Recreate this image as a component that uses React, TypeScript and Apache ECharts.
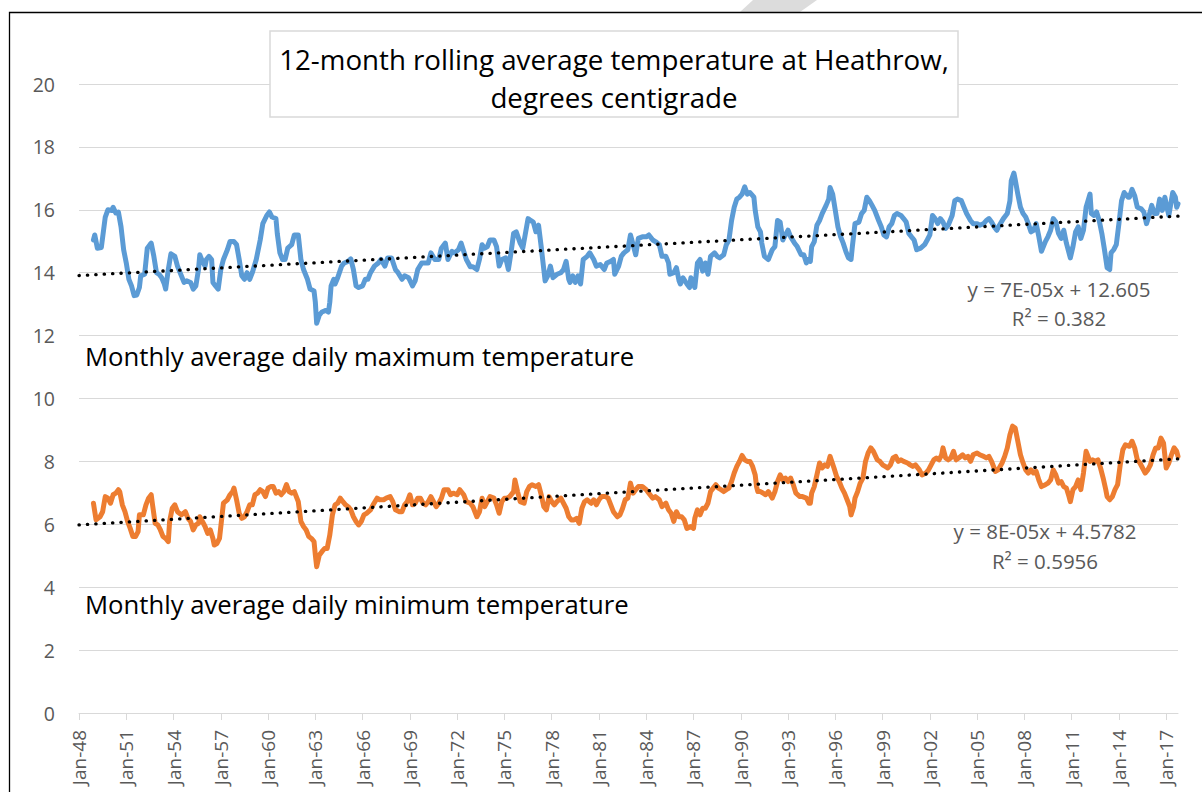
import React, { useEffect, useRef } from "react";
import * as echarts from "echarts";

// ---------- axis definition ----------
const START_YEAR = 1948;
const MONTH_COUNT = 838; // Jan-1948 .. Oct-2017
const MONTH_NAMES = ["Jan", "Feb", "Mar", "Apr", "May", "Jun", "Jul", "Aug", "Sep", "Oct", "Nov", "Dec"];
const TICK_EVERY_MONTHS = 36;
const Y_MIN = 0;
const Y_MAX = 20;
const Y_STEP = 2;

// ---------- 12-month rolling average daily maximum (month index from Jan-1948) ----------
const maxMonths = [
  11, 12, 14, 17, 20, 22, 25, 26, 28, 30, 32, 34, 36, 38, 40, 42, 44, 46, 47, 50,
  52, 54, 55, 57, 59, 61, 63, 65, 66, 68, 70, 73, 75, 78, 80, 82, 85, 87, 89, 91,
  92, 94, 96, 97, 99, 101, 102, 104, 106, 108, 110, 113, 115, 118, 120, 122, 124, 126, 128, 130,
  132, 135, 138, 140, 143, 145, 147, 150, 151, 153, 155, 157, 159, 162, 164, 167, 169, 171, 174, 176,
  179, 180, 181, 183, 185, 188, 190, 191, 192, 194, 195, 197, 200, 202, 205, 207, 209, 211, 213, 216,
  218, 220, 222, 225, 228, 230, 233, 235, 238, 241, 243, 246, 248, 251, 254, 256, 258, 261, 264, 266,
  268, 271, 274, 276, 279, 281, 284, 286, 289, 291, 293, 295, 298, 300, 303, 305, 307, 309, 311, 313,
  316, 318, 320, 322, 325, 327, 329, 331, 333, 336, 338, 340, 342, 344, 346, 348, 350, 352, 354, 355,
  357, 359, 361, 364, 367, 369, 371, 373, 374, 376, 378, 380, 382, 384, 387, 389, 392, 394, 397, 400,
  402, 405, 407, 408, 411, 413, 415, 418, 420, 422, 424, 426, 429, 432, 434, 437, 439, 442, 444, 447,
  449, 450, 453, 455, 457, 458, 460, 463, 465, 466, 469, 471, 473, 475, 477, 479, 481, 484, 486, 488,
  491, 493, 495, 497, 499, 501, 503, 505, 507, 509, 511, 514, 515, 517, 519, 520, 522, 525, 528, 530,
  532, 534, 536, 538, 540, 542, 545, 547, 550, 552, 554, 555, 557, 558, 560, 562, 564, 566, 569, 571,
  572, 574, 576, 578, 580, 582, 584, 586, 588, 589, 591, 594, 596, 598, 600, 602, 604, 606, 609, 611,
  613, 615, 617, 619, 621, 623, 626, 628, 630, 632, 634, 636, 638, 641, 644, 646, 648, 650, 652, 654,
  656, 658, 660, 662, 665, 667, 669, 672, 674, 676, 679, 681, 684, 686, 689, 691, 693, 695, 697, 699,
  701, 704, 707, 709, 710, 712, 713, 715, 717, 719, 721, 723, 725, 727, 729, 731, 733, 736, 738, 740,
  742, 744, 746, 748, 750, 752, 755, 757, 759, 761, 763, 765, 767, 770, 771, 773, 775, 777, 779, 781,
  783, 785, 786, 788, 790, 792, 794, 796, 799, 800, 802, 804, 806, 809, 811, 813, 815, 817, 819, 821,
  823, 825, 827, 828, 830, 833, 835, 836, 837,
];
const maxValues = [
  15.04, 15.2, 14.78, 14.8, 15.77, 16.0, 15.98, 16.08, 15.9, 15.93, 15.46, 14.73, 14.31, 13.79, 13.58, 13.27, 13.29, 13.53, 13.9, 13.95,
  14.78, 14.89, 14.94, 14.52, 14.0, 13.95, 13.84, 13.64, 13.48, 14.1, 14.6, 14.52, 14.21, 13.9, 13.69, 13.74, 13.69, 13.48, 13.58, 14.1,
  14.57, 14.36, 14.21, 14.42, 14.52, 14.42, 13.69, 13.58, 13.48, 14.1, 14.42, 14.73, 14.99, 14.99, 14.89, 14.42, 13.9, 13.79, 14.0, 13.79,
  14.0, 14.42, 15.04, 15.56, 15.82, 15.93, 15.77, 15.72, 15.25, 14.63, 14.42, 14.42, 14.78, 14.89, 15.2, 15.2, 14.42, 14.1, 13.79, 13.48,
  13.42, 13.06, 12.39, 12.65, 12.75, 12.8, 12.75, 13.06, 13.58, 13.79, 13.64, 13.84, 14.21, 14.31, 14.36, 14.44, 14.1, 13.58, 13.53, 13.58,
  13.79, 13.79, 14.0, 14.21, 14.31, 14.42, 14.21, 14.47, 14.47, 14.1, 14.0, 13.79, 13.9, 13.84, 13.58, 13.74, 14.1, 14.31, 14.31, 14.31,
  14.63, 14.42, 14.42, 14.78, 14.94, 14.42, 14.68, 14.63, 14.73, 14.94, 14.68, 14.42, 14.19, 14.19, 14.1, 14.42, 14.89, 14.78, 14.83, 15.04,
  15.04, 14.83, 14.21, 14.42, 14.47, 14.1, 14.63, 15.25, 15.3, 14.94, 14.78, 15.25, 15.72, 15.66, 15.61, 15.3, 15.51, 14.83, 14.1, 13.74,
  13.9, 14.21, 13.84, 13.95, 14.0, 14.1, 14.36, 13.79, 13.69, 13.9, 13.69, 13.9, 13.64, 14.42, 14.52, 14.63, 14.42, 14.21, 14.26, 14.1,
  14.31, 14.36, 14.42, 13.95, 14.21, 14.52, 14.63, 14.73, 15.2, 14.89, 14.57, 15.09, 15.14, 15.14, 15.2, 15.04, 14.99, 14.89, 14.52, 14.52,
  14.31, 13.95, 14.0, 14.16, 13.74, 13.64, 13.84, 13.64, 13.53, 13.84, 13.53, 14.31, 14.42, 14.05, 14.31, 13.95, 14.52, 14.63, 14.52, 14.47,
  14.57, 14.89, 15.04, 15.66, 16.08, 16.34, 16.4, 16.5, 16.73, 16.5, 16.55, 16.4, 15.98, 15.46, 15.3, 14.94, 14.52, 14.42, 14.73, 14.83,
  15.66, 15.61, 15.04, 15.2, 15.35, 15.14, 14.94, 14.83, 14.57, 14.57, 14.31, 14.42, 14.36, 14.83, 14.99, 15.51, 15.66, 15.88, 16.14, 16.34,
  16.71, 16.5, 15.98, 15.46, 15.15, 14.94, 14.68, 14.47, 14.42, 14.83, 15.56, 15.61, 15.88, 15.98, 16.4, 16.29, 16.14, 15.98, 15.66, 15.46,
  15.2, 15.14, 15.46, 15.56, 15.82, 15.88, 15.82, 15.72, 15.61, 15.25, 15.14, 15.04, 14.73, 14.78, 14.89, 15.04, 15.2, 15.82, 15.72, 15.56,
  15.72, 15.61, 15.41, 15.51, 15.82, 16.29, 16.34, 16.29, 16.08, 15.88, 15.66, 15.56, 15.56, 15.51, 15.56, 15.66, 15.72, 15.61, 15.46, 15.35,
  15.51, 15.72, 15.88, 16.29, 16.92, 17.17, 16.96, 16.5, 16.08, 15.88, 15.77, 15.56, 15.3, 15.35, 15.56, 15.15, 14.68, 14.99, 15.15, 15.35,
  15.72, 15.61, 15.25, 15.09, 15.35, 14.94, 14.47, 14.83, 15.3, 15.46, 15.09, 15.35, 16.08, 16.5, 15.88, 15.82, 15.93, 15.66, 15.25, 14.73,
  14.16, 14.1, 14.63, 14.73, 14.89, 15.56, 16.29, 16.55, 16.4, 16.4, 16.65, 16.45, 16.08, 16.03, 15.93, 15.56, 15.82, 16.14, 15.88, 15.88,
  16.34, 15.98, 16.4, 16.19, 15.82, 16.55, 16.4, 16.08, 16.19,
];

// ---------- 12-month rolling average daily minimum ----------
const minMonths = [
  11, 13, 16, 18, 20, 22, 24, 26, 28, 30, 31, 33, 35, 37, 39, 41, 43, 45, 46, 49,
  51, 53, 55, 56, 58, 60, 62, 64, 66, 68, 69, 71, 73, 75, 78, 81, 83, 85, 87, 89,
  91, 92, 94, 96, 98, 100, 102, 103, 105, 107, 109, 110, 113, 115, 117, 118, 120, 122, 124, 126,
  128, 130, 132, 134, 136, 138, 140, 142, 144, 146, 148, 150, 152, 154, 156, 158, 160, 162, 164, 167,
  169, 171, 173, 175, 177, 179, 180, 181, 183, 185, 187, 189, 191, 193, 195, 197, 199, 201, 203, 205,
  207, 209, 211, 213, 215, 217, 219, 222, 224, 227, 229, 232, 234, 237, 239, 241, 244, 246, 248, 250,
  252, 254, 256, 258, 260, 262, 264, 266, 268, 270, 272, 274, 276, 278, 281, 283, 285, 288, 290, 293,
  295, 298, 300, 303, 305, 307, 309, 311, 313, 316, 318, 320, 322, 324, 326, 328, 331, 332, 334, 336,
  339, 341, 343, 345, 348, 350, 352, 354, 356, 358, 360, 362, 364, 367, 369, 371, 373, 375, 377, 379,
  381, 383, 385, 387, 390, 392, 394, 396, 398, 401, 403, 405, 407, 410, 412, 414, 416, 418, 420, 422,
  424, 426, 429, 432, 434, 437, 439, 442, 444, 447, 449, 451, 453, 455, 457, 459, 461, 463, 466, 468,
  469, 471, 473, 475, 477, 479, 481, 483, 485, 487, 489, 491, 493, 495, 497, 499, 501, 503, 505, 507,
  509, 511, 513, 515, 516, 517, 519, 521, 523, 525, 528, 530, 532, 534, 536, 538, 540, 542, 544, 546,
  549, 551, 554, 556, 557, 558, 560, 562, 564, 566, 568, 570, 572, 575, 577, 579, 581, 583, 585, 587,
  588, 590, 591, 593, 595, 597, 599, 601, 603, 605, 608, 610, 612, 614, 616, 618, 620, 622, 624, 626,
  628, 631, 633, 635, 637, 640, 642, 645, 647, 649, 651, 653, 655, 657, 658, 660, 662, 664, 666, 668,
  670, 673, 675, 677, 679, 681, 684, 686, 689, 691, 693, 695, 698, 700, 703, 705, 707, 709, 711, 713,
  715, 717, 719, 721, 723, 725, 727, 729, 731, 733, 736, 738, 740, 742, 744, 746, 748, 750, 752, 754,
  755, 757, 759, 761, 763, 765, 767, 770, 772, 774, 776, 778, 780, 782, 783, 785, 787, 789, 791, 793,
  795, 797, 800, 802, 804, 806, 808, 810, 812, 814, 816, 818, 820, 822, 824, 826, 828, 830, 832, 834,
  836, 837,
];
const minValues = [
  6.67, 6.14, 6.24, 6.4, 6.88, 6.83, 6.67, 6.94, 6.99, 7.1, 7.04, 6.62, 6.4, 6.09, 5.87, 5.61, 5.61, 5.77, 6.3, 6.3,
  6.62, 6.83, 6.94, 6.62, 6.03, 5.98, 5.82, 5.61, 5.55, 5.45, 6.09, 6.51, 6.62, 6.4, 6.3, 6.4, 6.19, 6.09, 5.82, 5.98,
  6.03, 6.24, 6.09, 5.93, 5.71, 5.82, 5.55, 5.34, 5.39, 5.55, 6.3, 6.67, 6.78, 6.94, 7.04, 7.15, 6.78, 6.35, 6.19, 6.24,
  6.4, 6.62, 6.62, 6.94, 6.99, 7.1, 7.04, 6.88, 7.15, 7.2, 7.2, 6.99, 7.04, 6.94, 7.04, 7.26, 7.04, 6.99, 7.04, 6.72,
  6.09, 5.93, 5.82, 5.61, 5.55, 5.45, 5.02, 4.65, 5.02, 5.13, 5.23, 5.23, 5.66, 6.3, 6.62, 6.67, 6.83, 6.72, 6.62, 6.56,
  6.46, 6.24, 6.09, 5.98, 6.09, 6.3, 6.35, 6.46, 6.62, 6.83, 6.78, 6.78, 6.83, 6.88, 6.72, 6.46, 6.4, 6.4, 6.62, 6.72,
  6.94, 6.62, 6.67, 6.83, 6.83, 6.67, 6.62, 6.72, 6.88, 6.72, 6.56, 6.67, 6.83, 7.1, 7.1, 6.94, 6.99, 6.94, 7.1, 6.94,
  6.72, 6.67, 6.56, 6.24, 6.4, 6.83, 6.56, 6.72, 6.88, 6.83, 6.62, 6.35, 6.72, 6.83, 6.83, 6.88, 7.04, 7.41, 7.04, 6.72,
  6.67, 7.04, 7.2, 7.26, 7.2, 7.26, 6.94, 6.56, 6.46, 6.88, 6.72, 6.62, 6.72, 6.83, 6.67, 6.51, 6.24, 6.14, 6.14, 6.19,
  6.03, 6.51, 6.72, 6.78, 6.67, 6.78, 6.62, 6.78, 6.88, 6.88, 6.83, 6.62, 6.4, 6.24, 6.3, 6.51, 6.78, 6.83, 7.31, 6.99,
  7.1, 7.2, 7.2, 7.1, 6.99, 6.83, 6.88, 6.78, 6.56, 6.67, 6.46, 6.35, 6.09, 6.4, 6.24, 6.24, 6.14, 5.87, 5.93, 5.87,
  6.19, 6.46, 6.3, 6.51, 6.51, 6.67, 7.04, 7.15, 7.26, 7.15, 7.1, 7.04, 7.1, 7.15, 7.36, 7.63, 7.84, 8.0, 8.19, 8.05,
  8.0, 8.0, 7.84, 7.57, 7.2, 7.04, 7.04, 6.99, 6.94, 7.04, 6.83, 7.04, 7.36, 7.57, 7.41, 7.47, 7.36, 7.47, 7.26, 6.99,
  6.88, 6.88, 6.83, 6.67, 6.67, 6.99, 7.2, 7.57, 7.95, 7.79, 7.89, 7.84, 8.16, 7.79, 7.52, 7.36, 7.15, 6.99, 6.78, 6.56,
  6.3, 6.56, 6.83, 7.04, 7.31, 7.47, 8.0, 8.27, 8.43, 8.32, 8.05, 8.0, 7.89, 7.84, 7.79, 7.89, 8.11, 8.16, 8.0, 8.05,
  8.0, 7.95, 7.89, 7.84, 7.89, 7.73, 7.57, 7.63, 7.73, 7.89, 8.05, 8.11, 8.05, 8.21, 8.43, 8.11, 8.05, 8.11, 8.32, 8.05,
  8.11, 8.21, 8.11, 8.16, 8.0, 8.21, 8.27, 8.21, 8.16, 8.11, 8.16, 8.0, 7.68, 7.73, 7.95, 8.16, 8.43, 8.85, 9.12, 9.06,
  8.64, 8.21, 7.95, 7.73, 7.63, 7.73, 7.63, 7.68, 7.41, 7.2, 7.26, 7.31, 7.41, 7.73, 7.57, 7.31, 7.36, 7.2, 7.15, 6.88,
  6.72, 7.1, 7.2, 7.41, 7.1, 7.63, 8.32, 8.0, 8.05, 8.0, 8.05, 7.79, 7.47, 7.1, 6.88, 6.78, 6.88, 7.1, 7.26, 7.89,
  8.37, 8.53, 8.48, 8.64, 8.43, 8.05, 7.95, 7.79, 7.63, 7.73, 7.89, 8.21, 8.43, 8.43, 8.74, 8.58, 7.79, 7.95, 8.21, 8.43,
  8.32, 8.16,
];

// ---------- linear trend lines (end points) ----------
const maxTrendMonths = [0, 837];
const maxTrendValues = [13.91, 15.8];
const minTrendMonths = [0, 837];
const minTrendValues = [5.98, 8.08];

// ---------- texts ----------
const TITLE_LINES = ["12-month rolling average temperature at Heathrow,", "degrees centigrade"];
const MAX_LABEL = "Monthly average daily maximum temperature";
const MIN_LABEL = "Monthly average daily minimum temperature";
const MAX_EQ = ["y = 7E-05x + 12.605", "R² = 0.382"];
const MIN_EQ = ["y = 8E-05x + 4.5782", "R² = 0.5956"];

const FONT = "'Open Sans', 'Noto Sans', sans-serif";

function pairs(xs: number[], ys: number[]) {
  return xs.map((x, i) => [x, ys[i]]);
}

function label(text: string, x: number, y: number, size: number, color: string, align: string) {
  return {
    type: "text",
    z: 101,
    style: {
      text,
      x,
      y,
      textAlign: align,
      textVerticalAlign: "middle",
      fill: color,
      font: `${size}px ${FONT}`,
    },
  };
}

export default function App() {
  const ref = useRef<HTMLDivElement>(null);

  useEffect(() => {
    if (!ref.current) return;
    const chart = echarts.init(ref.current, undefined, { renderer: "svg" });

    const categories: string[] = [];
    for (let i = 0; i < MONTH_COUNT; i++) {
      const yr = (START_YEAR + Math.floor(i / 12)) % 100;
      categories.push(MONTH_NAMES[i % 12] + "-" + String(yr).padStart(2, "0"));
    }
    const showTick = (idx: number) => idx % TICK_EVERY_MONTHS === 0;

    const option: any = {
      animation: false,
      backgroundColor: "#ffffff",
      grid: {
        left: 79,
        right: 24,
        top: 84,
        bottom: 79,
        containLabel: false,
        outerBoundsMode: "none",
      },
      xAxis: {
        type: "category",
        data: categories,
        boundaryGap: false,
        axisLine: { show: true, lineStyle: { color: "#d9d9d9", width: 1 } },
        axisTick: { show: true, interval: showTick, length: 7, lineStyle: { color: "#d9d9d9", width: 1 } },
        axisLabel: {
          interval: showTick,
          rotate: 90,
          margin: 17,
          color: "#595959",
          fontSize: 19,
          fontFamily: FONT,
        },
        splitLine: { show: false },
      },
      yAxis: {
        type: "value",
        min: Y_MIN,
        max: Y_MAX,
        interval: Y_STEP,
        axisLine: { show: false },
        axisTick: { show: false },
        axisLabel: { color: "#595959", fontSize: 19.5, fontFamily: FONT, margin: 24, align: "right" },
        splitLine: { show: true, lineStyle: { color: "#d9d9d9", width: 1 } },
      },
      series: [
        {
          name: "Max",
          type: "line",
          data: pairs(maxMonths, maxValues),
          showSymbol: false,
          symbol: "none",
          lineStyle: { color: "#5b9bd5", width: 5, cap: "round", join: "round" },
          z: 2,
        },
        {
          name: "Min",
          type: "line",
          data: pairs(minMonths, minValues),
          showSymbol: false,
          symbol: "none",
          lineStyle: { color: "#ed7d31", width: 5, cap: "round", join: "round" },
          z: 2,
        },
        {
          name: "Max trend",
          type: "line",
          data: pairs(maxTrendMonths, maxTrendValues),
          showSymbol: false,
          symbol: "none",
          lineStyle: { color: "#000000", width: 3.3, type: [0.3, 8.1], cap: "round" },
          z: 3,
        },
        {
          name: "Min trend",
          type: "line",
          data: pairs(minTrendMonths, minTrendValues),
          showSymbol: false,
          symbol: "none",
          lineStyle: { color: "#000000", width: 3.3, type: [0.3, 8.1], cap: "round" },
          z: 3,
        },
      ],
      graphic: [
        {
          type: "polygon",
          z: 100,
          shape: { points: [[740, 12], [753, 0], [817, 0], [800, 12]] },
          style: { fill: "#dcdcdc" },
        },
        {
          type: "rect",
          z: 100,
          shape: { x: 9.5, y: 12.5, width: 1400, height: 1000 },
          style: { fill: "none", stroke: "#000000", lineWidth: 1.3 },
        },
        {
          type: "rect",
          z: 100,
          shape: { x: 270, y: 31, width: 688, height: 86 },
          style: { fill: "#ffffff", stroke: "#d9d9d9", lineWidth: 1.5 },
        },
        label(TITLE_LINES[0], 614, 59, 27.7, "#000000", "center"),
        label(TITLE_LINES[1], 614, 97, 27.7, "#000000", "center"),
        label(MAX_LABEL, 85, 356, 25.7, "#000000", "left"),
        label(MIN_LABEL, 85, 604, 25.7, "#000000", "left"),
        label(MAX_EQ[0], 1059, 289, 20.5, "#595959", "center"),
        label(MAX_EQ[1], 1059, 318, 20.5, "#595959", "center"),
        label(MIN_EQ[0], 1045, 531, 20.5, "#595959", "center"),
        label(MIN_EQ[1], 1045, 561, 20.5, "#595959", "center"),
      ],
    };

    chart.setOption(option);
    return () => {
      chart.dispose();
    };
  }, []);

  return (
    <div
      style={{ position: "fixed", left: 0, top: 0, width: 1202, height: 792, overflow: "hidden", background: "#fff" }}
    >
      <div ref={ref} style={{ width: 1202, height: 792 }} />
    </div>
  );
}
